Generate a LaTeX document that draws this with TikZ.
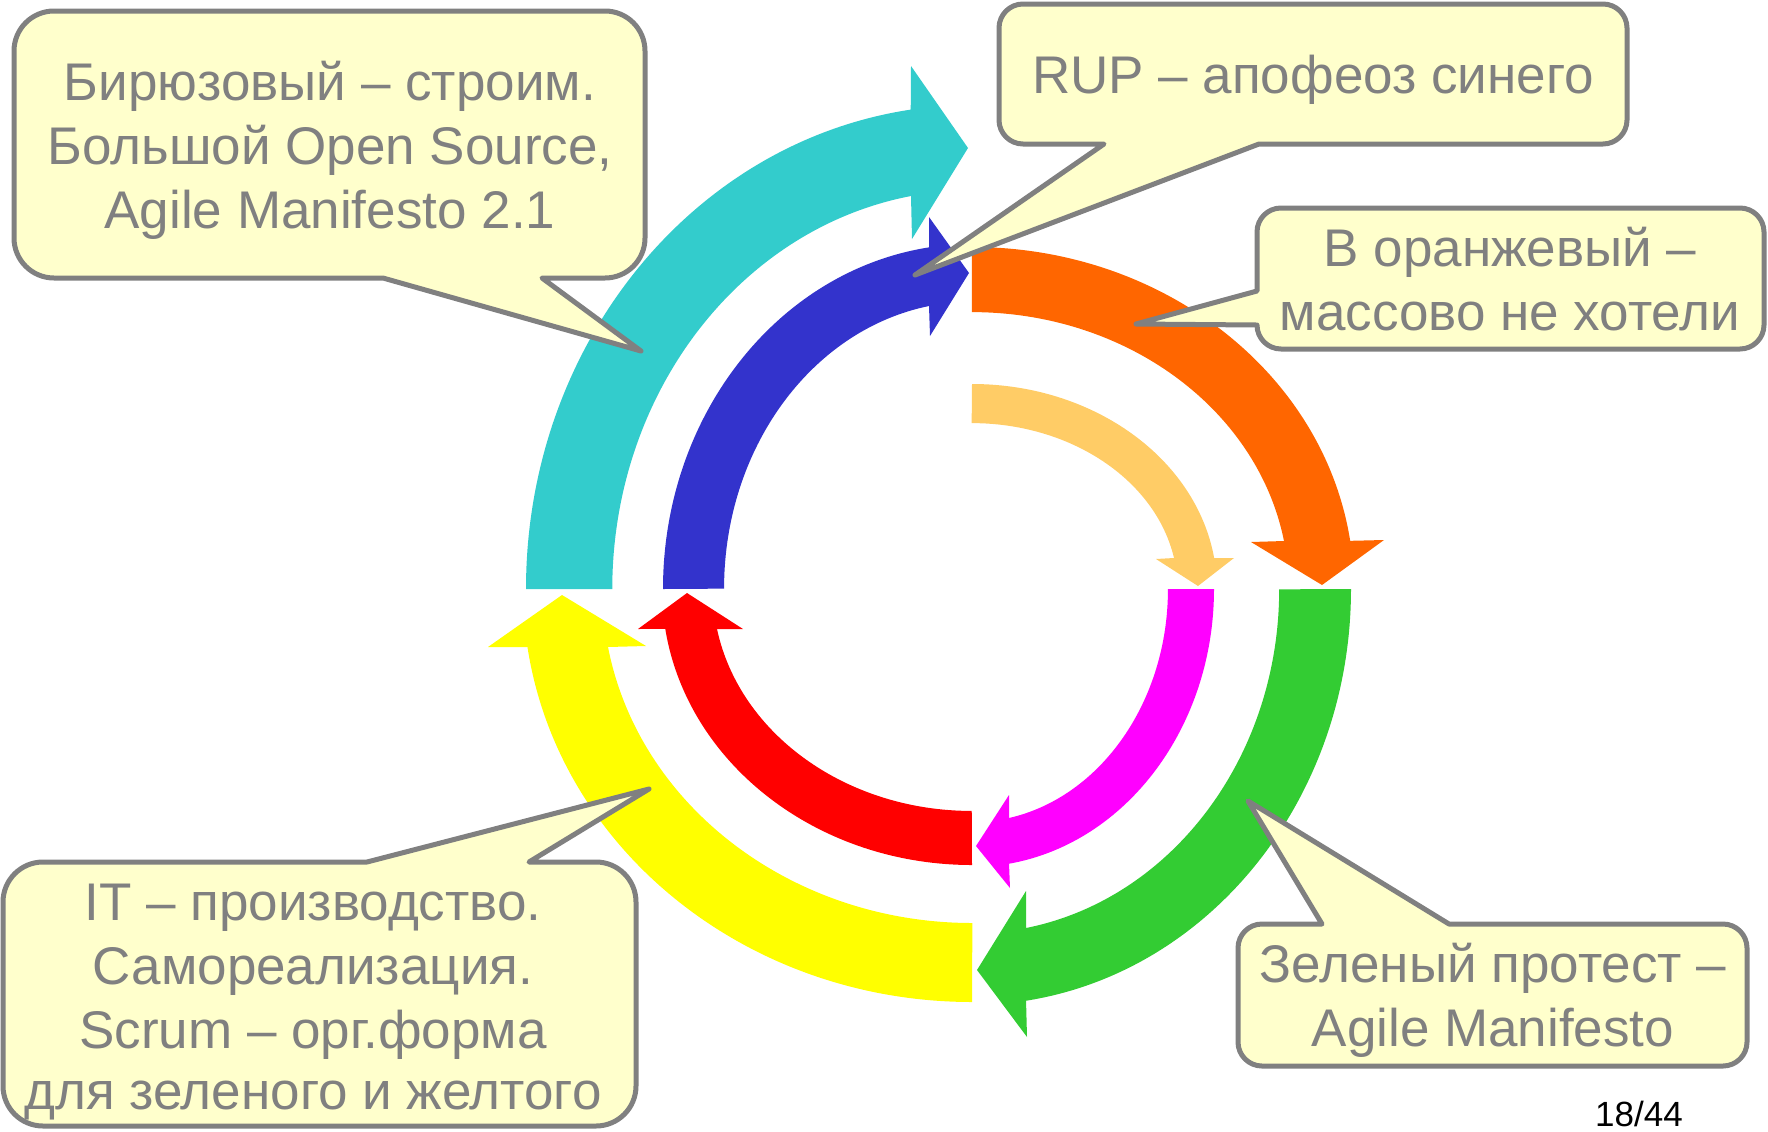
\documentclass[tikz,border=0pt]{standalone}
\usepackage{fontspec}
\setmainfont{Liberation Sans}
\definecolor{cCyan}{HTML}{33CCCC}
\definecolor{cBlue}{HTML}{3333CC}
\definecolor{cOrange}{HTML}{FF6600}
\definecolor{cLOrange}{HTML}{FFCC66}
\definecolor{cMagenta}{HTML}{FF00FF}
\definecolor{cGreen}{HTML}{33CC33}
\definecolor{cYellow}{HTML}{FFFF00}
\definecolor{cRed}{HTML}{FF0000}
\definecolor{cFill}{HTML}{FFFFCC}
\definecolor{cLine}{HTML}{808080}
\tikzset{
  callout/.style={fill=cFill, draw=cLine, line width=2.5pt, line join=round},
  txt/.style={text=cLine, font=\fontsize{26.5}{32}\selectfont, inner sep=0pt, anchor=base},
}
\begin{document}
\begin{tikzpicture}[x=0.5pt,y=-0.5pt]
\useasboundingbox (0,0) rectangle (1768,1131);
% ---- arrows ----
% cyan (outer, upper left)
\fill[cCyan] (526,589) arc[start angle=180,end angle=262.1,x radius=446,y radius=484]
  -- (911,66) -- (968,148) -- (912,239) -- (911,196)
  arc[start angle=260.2,end angle=180,x radius=360,y radius=399] -- cycle;
% blue (inner, upper left)
\fill[cBlue] (663,589) arc[start angle=180,end angle=262,x radius=309,y radius=345]
  -- (929,217) -- (969,273) -- (930,336) -- (929,306)
  arc[start angle=260,end angle=180,x radius=248,y radius=287] -- cycle;
% orange (outer, upper right)
\fill[cOrange] (972,247) arc[start angle=270,end angle=351.9,x radius=382,y radius=342]
  -- (1384,540) -- (1322,585) -- (1251,542) -- (1284,541)
  arc[start angle=350,end angle=270,x radius=317,y radius=277] -- cycle;
% light orange (inner, upper right)
\fill[cLOrange] (972,384) arc[start angle=270,end angle=351.3,x radius=245,y radius=205]
  -- (1234,558) -- (1198,586) -- (1156,559) -- (1174,558)
  arc[start angle=349.2,end angle=270,x radius=206,y radius=166] -- cycle;
% magenta (inner, lower right)
\fill[cMagenta] (1214,589) arc[start angle=0,end angle=81.2,x radius=242,y radius=278]
  -- (1010,888) -- (976,846) -- (1009,795) -- (1009,818)
  arc[start angle=79.1,end angle=0,x radius=196,y radius=233] -- cycle;
% green (outer, lower right)
\fill[cGreen] (1351,589) arc[start angle=0,end angle=81.8,x radius=379,y radius=416]
  -- (1027,1037) -- (977,970) -- (1026,891) -- (1026,928)
  arc[start angle=79.9,end angle=0,x radius=307,y radius=344] -- cycle;
% yellow (outer, lower left)
\fill[cYellow] (972,1002) arc[start angle=90,end angle=171.9,x radius=449,y radius=413]
  -- (488,647) -- (562,595) -- (646,646) -- (608,647)
  arc[start angle=170,end angle=90,x radius=370,y radius=334] -- cycle;
% red (inner, lower left)
\fill[cRed] (972,865) arc[start angle=90,end angle=171.7,x radius=310,y radius=276]
  -- (638,629) -- (687,593) -- (743,629) -- (717,629)
  arc[start angle=169.6,end angle=90,x radius=259,y radius=222] -- cycle;
% ---- callouts ----
\draw[callout] (54,11) -- (605,11) arc[start angle=-90,end angle=0,radius=40]
  -- (645,238) arc[start angle=0,end angle=90,radius=40]
  -- (542,278) -- (641,351) -- (383,278) -- (54,278)
  arc[start angle=90,end angle=180,radius=40] -- (14,51)
  arc[start angle=180,end angle=270,radius=40] -- cycle;
\draw[callout] (1023,4) -- (1603,4) arc[start angle=-90,end angle=0,radius=24]
  -- (1627,120) arc[start angle=0,end angle=90,radius=24]
  -- (1259,144) -- (915,275) -- (1104,144) -- (1023,144)
  arc[start angle=90,end angle=180,radius=24] -- (999,28)
  arc[start angle=180,end angle=270,radius=24] -- cycle;
\draw[callout] (1281,208) -- (1740,208) arc[start angle=-90,end angle=0,radius=24]
  -- (1764,325) arc[start angle=0,end angle=90,radius=24]
  -- (1281,349) arc[start angle=90,end angle=180,radius=24]
  -- (1136,324) -- (1257,291) -- (1257,232)
  arc[start angle=180,end angle=270,radius=24] -- cycle;
\draw[callout] (43,862) -- (367,862) -- (649,789) -- (529,862) -- (596,862)
  arc[start angle=-90,end angle=0,radius=40] -- (636,1086)
  arc[start angle=0,end angle=90,radius=40] -- (43,1126)
  arc[start angle=90,end angle=180,radius=40] -- (3,902)
  arc[start angle=180,end angle=270,radius=40] -- cycle;
\draw[callout] (1262,924) -- (1322,924) -- (1248,801) -- (1449,924) -- (1723,924)
  arc[start angle=-90,end angle=0,radius=24] -- (1747,1042)
  arc[start angle=0,end angle=90,radius=24] -- (1262,1066)
  arc[start angle=90,end angle=180,radius=24] -- (1238,948)
  arc[start angle=180,end angle=270,radius=24] -- cycle;
% ---- texts ----
\node[txt] (b1a) at (330,100) {Бирюзовый – строим.};
\node[txt] (b1b) at (330,164) {Большой Open Source,};
\node[txt] (b1c) at (330,228) {Agile Manifesto 2.1};
\node[txt] (b2a) at (1313,93) {RUP – апофеоз синего};
\node[txt] (b3a) at (1510,266) {В оранжевый –};
\node[txt] (b3b) at (1510,330) {массово не хотели};
\node[txt] (b4a) at (313,920) {IT – производство.};
\node[txt] (b4b) at (313,984) {Самореализация.};
\node[txt] (b4c) at (313,1048) {Scrum – орг.форма};
\node[txt] (b4d) at (313,1109) {для зеленого и желтого};
\node[txt] (b5a) at (1493,982) {Зеленый протест –};
\node[txt] (b5b) at (1493,1046) {Agile Manifesto};
\node[anchor=base, inner sep=0pt, font=\fontsize{17.5}{20}\selectfont] (pg) at (1639,1126) {18/44};
\end{tikzpicture}
\end{document}
